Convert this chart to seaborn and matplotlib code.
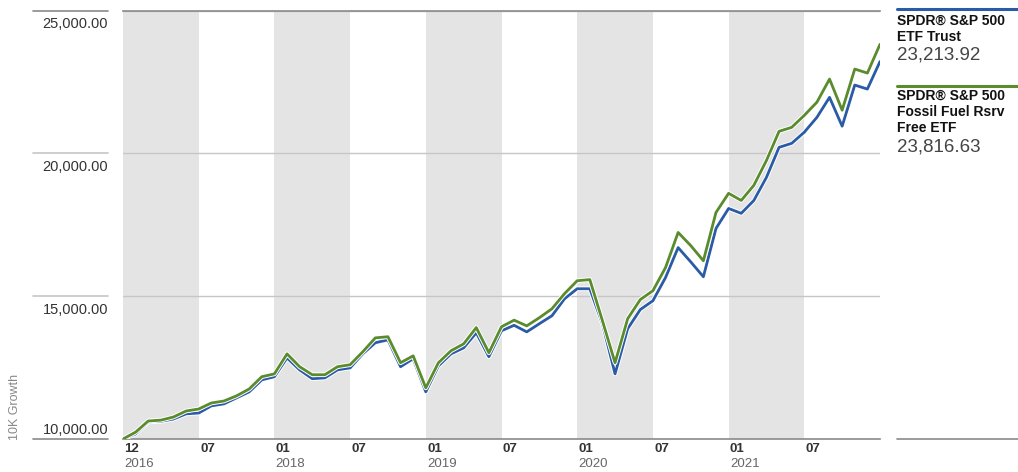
import numpy as np
import pandas as pd
import matplotlib
matplotlib.use("Agg")
import matplotlib.pyplot as plt
import matplotlib.patheffects as pe
import matplotlib.transforms as mtransforms
from matplotlib.lines import Line2D
import seaborn as sns

# ---------------- data ----------------
dates = pd.date_range("2016-12-31", "2021-12-31", freq="ME")  # month-ends, 61 points

spy_name = "SPDR® S&P 500\nETF Trust"
spy_values = [
    10000, 10180, 10600, 10620, 10700, 10880, 10910, 11160, 11230, 11440,
    11650, 12070, 12180, 12840, 12420, 12110, 12140, 12420, 12490, 12980,
    13370, 13470, 12530, 12810, 11650, 12560, 12980, 13190, 13720, 12880,
    13790, 13980, 13750, 14035, 14315, 14910, 15260, 15260, 14035, 12280,
    13860, 14530, 14840, 15650, 16700, 16200, 15680, 17370, 18070, 17900,
    18350, 19160, 20210, 20350, 20740, 21260, 21960, 20950, 22390, 22250,
    23213.92,
]
spy_last = "23,213.92"

ffr_name = "SPDR® S&P 500\nFossil Fuel Rsrv\nFree ETF"
ffr_values = [
    10000, 10240, 10630, 10660, 10770, 10980, 11050, 11260, 11330, 11510,
    11750, 12180, 12280, 12980, 12530, 12250, 12250, 12530, 12600, 13050,
    13540, 13580, 12670, 12910, 11790, 12670, 13090, 13330, 13900, 13020,
    13930, 14160, 13960, 14245, 14560, 15090, 15540, 15580, 14140, 12670,
    14210, 14880, 15190, 16000, 17230, 16770, 16240, 17930, 18600, 18350,
    18880, 19750, 20770, 20910, 21330, 21790, 22600, 21510, 22950, 22810,
    23816.63,
]
ffr_last = "23,816.63"

month_labels = ["12", "07", "01", "07", "01", "07", "01", "07", "01", "07"]
year_labels = ["2016", "", "2018", "", "2019", "", "2020", "", "2021", ""]
y_ticks = [10000, 15000, 20000, 25000]
y_tick_labels = ["10,000.00", "15,000.00", "20,000.00", "25,000.00"]
y_title = "10K Growth"

# ---------------- style ----------------
sns.set_style("white")
plt.rcParams["font.family"] = ["Liberation Sans", "DejaVu Sans"]

BLUE = "#2a5ba6"
GREEN = "#5a8b2c"
BAND = "#e4e4e4"
GRID = "#c6c6c6"
AXIS = "#8a8a8a"

W, H = 1018, 472
fig = plt.figure(figsize=(W / 100, H / 100), dpi=100)
ax = fig.add_axes([123 / W, 1 - 439 / H, (880 - 123) / W, (439 - 10.5) / H])

df = pd.DataFrame({
    "idx": np.arange(len(dates)),
    "date": dates,
    "SPY": spy_values,
    "FFR": ffr_values,
})

# alternating half-year bands (Jan-Jun shaded), starting at the first point
for s in range(0, len(dates) - 1, 12):
    ax.axvspan(s, s + 6, color=BAND, lw=0, zorder=0)

halo = [pe.Stroke(linewidth=3.4, foreground="white"), pe.Normal()]
sns.lineplot(data=df, x="idx", y="SPY", ax=ax, color=BLUE, linewidth=2.0, zorder=3)
ax.lines[-1].set_path_effects(halo)
sns.lineplot(data=df, x="idx", y="FFR", ax=ax, color=GREEN, linewidth=2.0, zorder=4)
ax.lines[-1].set_path_effects(halo)

ax.set_xlim(0, len(dates) - 1)
ax.set_ylim(y_ticks[0], y_ticks[-1])
ax.set_xlabel("")
ax.set_ylabel("")

# spines / grid
for side in ["left", "right"]:
    ax.spines[side].set_visible(False)
ax.spines["top"].set_color(AXIS)
ax.spines["bottom"].set_color(AXIS)
ax.spines["top"].set_linewidth(1.2)
ax.spines["bottom"].set_linewidth(1.2)
ax.set_yticks(y_ticks)
ax.yaxis.grid(True, color=GRID, linewidth=1.0, zorder=1)
ax.set_axisbelow(True)
ax.tick_params(axis="both", length=0, labelleft=False, labelbottom=False)

# y tick labels with short lead lines on the left
btr = mtransforms.blended_transform_factory(ax.transAxes, ax.transData)
ax_w = 880 - 123
for v, lab in zip(y_ticks, y_tick_labels):
    col = AXIS if v in (y_ticks[0], y_ticks[-1]) else GRID
    ax.add_line(Line2D([(33 - 123) / ax_w, (108 - 123) / ax_w], [v, v],
                       transform=btr, color=col, lw=1.2, clip_on=False))
    if v == y_ticks[0]:
        ax.annotate(lab, xy=((108 - 123) / ax_w, v), xycoords=btr,
                    xytext=(0, 1.5), textcoords="offset points",
                    ha="right", va="bottom", fontsize=10.5, color="#333333")
    else:
        ax.annotate(lab, xy=((108 - 123) / ax_w, v), xycoords=btr,
                    xytext=(0, -5), textcoords="offset points",
                    ha="right", va="top", fontsize=10.5, color="#333333")

# x tick labels (month bold, year below in grey)
xticks = list(range(0, len(dates) - 1, 6))
ax.set_xticks(xticks)
xtr = mtransforms.blended_transform_factory(ax.transData, ax.transAxes)
for t, m, yl in zip(xticks, month_labels, year_labels):
    ax.annotate(m, xy=(t, 0), xycoords=xtr, xytext=(1, -3),
                textcoords="offset points", ha="left", va="top",
                fontsize=9.5, fontweight="bold", color="#333333")
    if yl:
        ax.annotate(yl, xy=(t, 0), xycoords=xtr, xytext=(1, -14),
                    textcoords="offset points", ha="left", va="top",
                    fontsize=9.5, color="#666666")

fig.text(15 / W, 1 - 440 / H, y_title, rotation=90, ha="center", va="bottom",
         fontsize=9, color="#888888")

# right-hand legend block
lx0 = 897 / W
fig.add_artist(Line2D([lx0, 1.0], [1 - 9 / H] * 2, transform=fig.transFigure,
                      color=BLUE, lw=2.2))
fig.text(lx0, 1 - 14 / H, spy_name, ha="left", va="top", fontsize=10,
         fontweight="bold", color="#111111", linespacing=1.2)
fig.text(lx0, 1 - 47 / H, spy_last, ha="left", va="top", fontsize=13.5,
         color="#444444")

fig.add_artist(Line2D([lx0, 1.0], [1 - 86 / H] * 2, transform=fig.transFigure,
                      color=GREEN, lw=2.2))
fig.text(lx0, 1 - 89 / H, ffr_name, ha="left", va="top", fontsize=10,
         fontweight="bold", color="#111111", linespacing=1.2)
fig.text(lx0, 1 - 139 / H, ffr_last, ha="left", va="top", fontsize=13.5,
         color="#444444")

fig.add_artist(Line2D([lx0, 1.0], [1 - 439 / H] * 2, transform=fig.transFigure,
                      color=AXIS, lw=1.2))

fig.savefig("out.png", dpi=100)
